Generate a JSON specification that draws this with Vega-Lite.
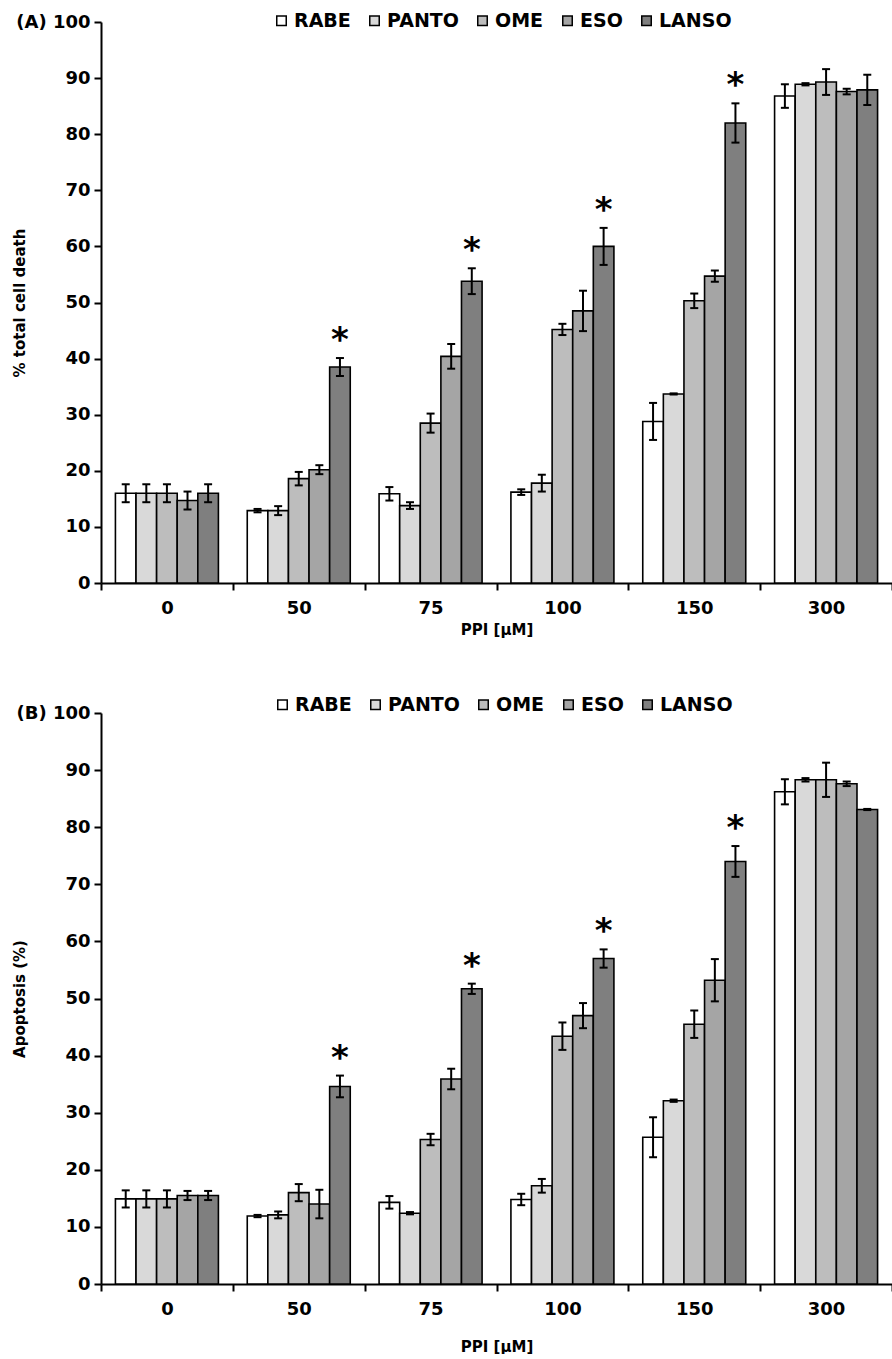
{
  "$schema": "https://vega.github.io/schema/vega-lite/v6.json",
  "background": "white",
  "padding": {"left": 12, "top": 11, "right": 0, "bottom": 0},
  "spacing": 58,
  "config": {
    "view": {"stroke": null},
    "font": "DejaVu Sans",
    "axis": {
      "grid": false,
      "domainColor": "black",
      "domainWidth": 2,
      "tickColor": "black",
      "tickWidth": 2,
      "labelColor": "black",
      "titleColor": "black",
      "labelFont": "DejaVu Sans",
      "labelFontWeight": "bold",
      "labelFontSize": 18,
      "titleFont": "DejaVu Sans",
      "titleFontSize": 15,
      "titleFontWeight": "bold"
    },
    "legend": {
      "orient": "none",
      "direction": "horizontal",
      "columns": 5,
      "title": null,
      "padding": 0,
      "labelFont": "DejaVu Sans",
      "labelFontSize": 19,
      "labelFontWeight": "bold",
      "labelColor": "black",
      "labelOffset": 3,
      "columnPadding": 14,
      "symbolType": "square",
      "symbolSize": 90,
      "symbolStrokeColor": "black",
      "symbolStrokeWidth": 1.5
    }
  },
  "resolve": {"scale": {"fill": "independent"}, "legend": {"fill": "independent"}},
  "datasets": {
    "a": [
      {"ppi": "0", "drug": "RABE", "mean": 16.0, "lo": 14.4, "hi": 17.6, "sig": false},
      {"ppi": "0", "drug": "PANTO", "mean": 16.0, "lo": 14.4, "hi": 17.6, "sig": false},
      {"ppi": "0", "drug": "OME", "mean": 16.0, "lo": 14.4, "hi": 17.6, "sig": false},
      {"ppi": "0", "drug": "ESO", "mean": 14.7, "lo": 13.1, "hi": 16.3, "sig": false},
      {"ppi": "0", "drug": "LANSO", "mean": 16.0, "lo": 14.4, "hi": 17.6, "sig": false},
      {"ppi": "50", "drug": "RABE", "mean": 12.9, "lo": 12.6, "hi": 13.2, "sig": false},
      {"ppi": "50", "drug": "PANTO", "mean": 12.9, "lo": 12.1, "hi": 13.7, "sig": false},
      {"ppi": "50", "drug": "OME", "mean": 18.6, "lo": 17.4, "hi": 19.8, "sig": false},
      {"ppi": "50", "drug": "ESO", "mean": 20.2, "lo": 19.4, "hi": 21.0, "sig": false},
      {"ppi": "50", "drug": "LANSO", "mean": 38.5, "lo": 36.9, "hi": 40.1, "sig": true},
      {"ppi": "75", "drug": "RABE", "mean": 15.9, "lo": 14.7, "hi": 17.1, "sig": false},
      {"ppi": "75", "drug": "PANTO", "mean": 13.8, "lo": 13.2, "hi": 14.4, "sig": false},
      {"ppi": "75", "drug": "OME", "mean": 28.5, "lo": 26.8, "hi": 30.2, "sig": false},
      {"ppi": "75", "drug": "ESO", "mean": 40.4, "lo": 38.2, "hi": 42.6, "sig": false},
      {"ppi": "75", "drug": "LANSO", "mean": 53.8, "lo": 51.5, "hi": 56.1, "sig": true},
      {"ppi": "100", "drug": "RABE", "mean": 16.2, "lo": 15.7, "hi": 16.7, "sig": false},
      {"ppi": "100", "drug": "PANTO", "mean": 17.8, "lo": 16.3, "hi": 19.3, "sig": false},
      {"ppi": "100", "drug": "OME", "mean": 45.2, "lo": 44.2, "hi": 46.2, "sig": false},
      {"ppi": "100", "drug": "ESO", "mean": 48.5, "lo": 44.9, "hi": 52.1, "sig": false},
      {"ppi": "100", "drug": "LANSO", "mean": 60.0, "lo": 56.7, "hi": 63.3, "sig": true},
      {"ppi": "150", "drug": "RABE", "mean": 28.8, "lo": 25.5, "hi": 32.1, "sig": false},
      {"ppi": "150", "drug": "PANTO", "mean": 33.7, "lo": 33.6, "hi": 33.8, "sig": false},
      {"ppi": "150", "drug": "OME", "mean": 50.3, "lo": 49.0, "hi": 51.6, "sig": false},
      {"ppi": "150", "drug": "ESO", "mean": 54.7, "lo": 53.7, "hi": 55.7, "sig": false},
      {"ppi": "150", "drug": "LANSO", "mean": 82.0, "lo": 78.5, "hi": 85.5, "sig": true},
      {"ppi": "300", "drug": "RABE", "mean": 86.8, "lo": 84.7, "hi": 88.9, "sig": false},
      {"ppi": "300", "drug": "PANTO", "mean": 88.9, "lo": 88.7, "hi": 89.1, "sig": false},
      {"ppi": "300", "drug": "OME", "mean": 89.3, "lo": 87.0, "hi": 91.6, "sig": false},
      {"ppi": "300", "drug": "ESO", "mean": 87.6, "lo": 87.1, "hi": 88.1, "sig": false},
      {"ppi": "300", "drug": "LANSO", "mean": 87.9, "lo": 85.2, "hi": 90.6, "sig": false}
    ],
    "b": [
      {"ppi": "0", "drug": "RABE", "mean": 14.9, "lo": 13.4, "hi": 16.4, "sig": false},
      {"ppi": "0", "drug": "PANTO", "mean": 14.9, "lo": 13.4, "hi": 16.4, "sig": false},
      {"ppi": "0", "drug": "OME", "mean": 14.9, "lo": 13.4, "hi": 16.4, "sig": false},
      {"ppi": "0", "drug": "ESO", "mean": 15.5, "lo": 14.7, "hi": 16.3, "sig": false},
      {"ppi": "0", "drug": "LANSO", "mean": 15.5, "lo": 14.7, "hi": 16.3, "sig": false},
      {"ppi": "50", "drug": "RABE", "mean": 11.9, "lo": 11.7, "hi": 12.1, "sig": false},
      {"ppi": "50", "drug": "PANTO", "mean": 12.1, "lo": 11.5, "hi": 12.7, "sig": false},
      {"ppi": "50", "drug": "OME", "mean": 16.0, "lo": 14.5, "hi": 17.5, "sig": false},
      {"ppi": "50", "drug": "ESO", "mean": 14.0, "lo": 11.5, "hi": 16.5, "sig": false},
      {"ppi": "50", "drug": "LANSO", "mean": 34.6, "lo": 32.7, "hi": 36.5, "sig": true},
      {"ppi": "75", "drug": "RABE", "mean": 14.3, "lo": 13.2, "hi": 15.4, "sig": false},
      {"ppi": "75", "drug": "PANTO", "mean": 12.4, "lo": 12.2, "hi": 12.6, "sig": false},
      {"ppi": "75", "drug": "OME", "mean": 25.3, "lo": 24.3, "hi": 26.3, "sig": false},
      {"ppi": "75", "drug": "ESO", "mean": 35.9, "lo": 34.1, "hi": 37.7, "sig": false},
      {"ppi": "75", "drug": "LANSO", "mean": 51.7, "lo": 50.8, "hi": 52.6, "sig": true},
      {"ppi": "100", "drug": "RABE", "mean": 14.8, "lo": 13.8, "hi": 15.8, "sig": false},
      {"ppi": "100", "drug": "PANTO", "mean": 17.2, "lo": 16.0, "hi": 18.4, "sig": false},
      {"ppi": "100", "drug": "OME", "mean": 43.4, "lo": 41.0, "hi": 45.8, "sig": false},
      {"ppi": "100", "drug": "ESO", "mean": 47.0, "lo": 44.8, "hi": 49.2, "sig": false},
      {"ppi": "100", "drug": "LANSO", "mean": 57.0, "lo": 55.4, "hi": 58.6, "sig": true},
      {"ppi": "150", "drug": "RABE", "mean": 25.7, "lo": 22.2, "hi": 29.2, "sig": false},
      {"ppi": "150", "drug": "PANTO", "mean": 32.1, "lo": 31.9, "hi": 32.3, "sig": false},
      {"ppi": "150", "drug": "OME", "mean": 45.5, "lo": 43.1, "hi": 47.9, "sig": false},
      {"ppi": "150", "drug": "ESO", "mean": 53.2, "lo": 49.5, "hi": 56.9, "sig": false},
      {"ppi": "150", "drug": "LANSO", "mean": 74.0, "lo": 71.3, "hi": 76.7, "sig": true},
      {"ppi": "300", "drug": "RABE", "mean": 86.2, "lo": 84.0, "hi": 88.4, "sig": false},
      {"ppi": "300", "drug": "PANTO", "mean": 88.3, "lo": 88.0, "hi": 88.6, "sig": false},
      {"ppi": "300", "drug": "OME", "mean": 88.3, "lo": 85.3, "hi": 91.3, "sig": false},
      {"ppi": "300", "drug": "ESO", "mean": 87.6, "lo": 87.2, "hi": 88.0, "sig": false},
      {"ppi": "300", "drug": "LANSO", "mean": 83.1, "lo": 83.0, "hi": 83.2, "sig": false}
    ]
  },
  "vconcat": [
    {
      "width": 791,
      "height": 561,
      "data": {"name": "a"},
      "encoding": {
        "x": {
          "field": "ppi", "type": "nominal",
          "sort": ["0", "50", "75", "100", "150", "300"],
          "scale": {"paddingInner": 0, "paddingOuter": 0},
          "axis": {"title": "PPI [μM]", "labelAngle": 0, "tickBand": "extent", "tickSize": 7, "labelPadding": 9, "titlePadding": 5}
        },
        "xOffset": {
          "field": "drug", "type": "nominal",
          "sort": ["RABE", "PANTO", "OME", "ESO", "LANSO"],
          "scale": {"paddingInner": 0, "paddingOuter": 0.7}
        }
      },
      "layer": [
        {
          "mark": {"type": "bar", "stroke": "black", "strokeWidth": 1.6},
          "encoding": {
            "y": {
              "field": "mean", "type": "quantitative",
              "scale": {"domain": [0, 100]},
              "axis": {
                "title": "% total cell death",
                "values": [0, 10, 20, 30, 40, 50, 60, 70, 80, 90, 100],
                "tickSize": 7, "labelPadding": 4, "titleX": -74,
                "labelExpr": "datum.value == 100 ? '(A) 100' : datum.label"
              }
            },
            "fill": {
              "field": "drug", "type": "nominal",
              "scale": {"domain": ["RABE", "PANTO", "OME", "ESO", "LANSO"], "range": ["#ffffff", "#d9d9d9", "#bdbdbd", "#a5a5a5", "#7f7f7f"]},
              "legend": {"legendX": 171, "legendY": -11}
            }
          }
        },
        {
          "mark": {"type": "rule", "color": "black", "strokeWidth": 2},
          "encoding": {"y": {"field": "lo", "type": "quantitative"}, "y2": {"field": "hi"}}
        },
        {
          "mark": {"type": "tick", "color": "black", "thickness": 2, "size": 8, "opacity": 1},
          "encoding": {"y": {"field": "lo", "type": "quantitative"}}
        },
        {
          "mark": {"type": "tick", "color": "black", "thickness": 2, "size": 8, "opacity": 1},
          "encoding": {"y": {"field": "hi", "type": "quantitative"}}
        },
        {
          "transform": [{"filter": "datum.sig"}],
          "mark": {"type": "text", "text": "*", "font": "DejaVu Sans", "fontSize": 34, "fontWeight": "bold", "color": "black", "baseline": "alphabetic", "dy": -7},
          "encoding": {"y": {"field": "hi", "type": "quantitative"}}
        }
      ]
    },
    {
      "width": 791,
      "height": 571,
      "data": {"name": "b"},
      "encoding": {
        "x": {
          "field": "ppi", "type": "nominal",
          "sort": ["0", "50", "75", "100", "150", "300"],
          "scale": {"paddingInner": 0, "paddingOuter": 0},
          "axis": {"title": "PPI [μM]", "labelAngle": 0, "tickBand": "extent", "tickSize": 7, "labelPadding": 9, "titlePadding": 21}
        },
        "xOffset": {
          "field": "drug", "type": "nominal",
          "sort": ["RABE", "PANTO", "OME", "ESO", "LANSO"],
          "scale": {"paddingInner": 0, "paddingOuter": 0.7}
        }
      },
      "layer": [
        {
          "mark": {"type": "bar", "stroke": "black", "strokeWidth": 1.6},
          "encoding": {
            "y": {
              "field": "mean", "type": "quantitative",
              "scale": {"domain": [0, 100]},
              "axis": {
                "title": "Apoptosis (%)",
                "values": [0, 10, 20, 30, 40, 50, 60, 70, 80, 90, 100],
                "tickSize": 7, "labelPadding": 4, "titleX": -74,
                "labelExpr": "datum.value == 100 ? '(B) 100' : datum.label"
              }
            },
            "fill": {
              "field": "drug", "type": "nominal",
              "scale": {"domain": ["RABE", "PANTO", "OME", "ESO", "LANSO"], "range": ["#ffffff", "#d9d9d9", "#bdbdbd", "#a5a5a5", "#7f7f7f"]},
              "legend": {"legendX": 172, "legendY": -18}
            }
          }
        },
        {
          "mark": {"type": "rule", "color": "black", "strokeWidth": 2},
          "encoding": {"y": {"field": "lo", "type": "quantitative"}, "y2": {"field": "hi"}}
        },
        {
          "mark": {"type": "tick", "color": "black", "thickness": 2, "size": 8, "opacity": 1},
          "encoding": {"y": {"field": "lo", "type": "quantitative"}}
        },
        {
          "mark": {"type": "tick", "color": "black", "thickness": 2, "size": 8, "opacity": 1},
          "encoding": {"y": {"field": "hi", "type": "quantitative"}}
        },
        {
          "transform": [{"filter": "datum.sig"}],
          "mark": {"type": "text", "text": "*", "font": "DejaVu Sans", "fontSize": 34, "fontWeight": "bold", "color": "black", "baseline": "alphabetic", "dy": -7},
          "encoding": {"y": {"field": "hi", "type": "quantitative"}}
        }
      ]
    }
  ]
}
